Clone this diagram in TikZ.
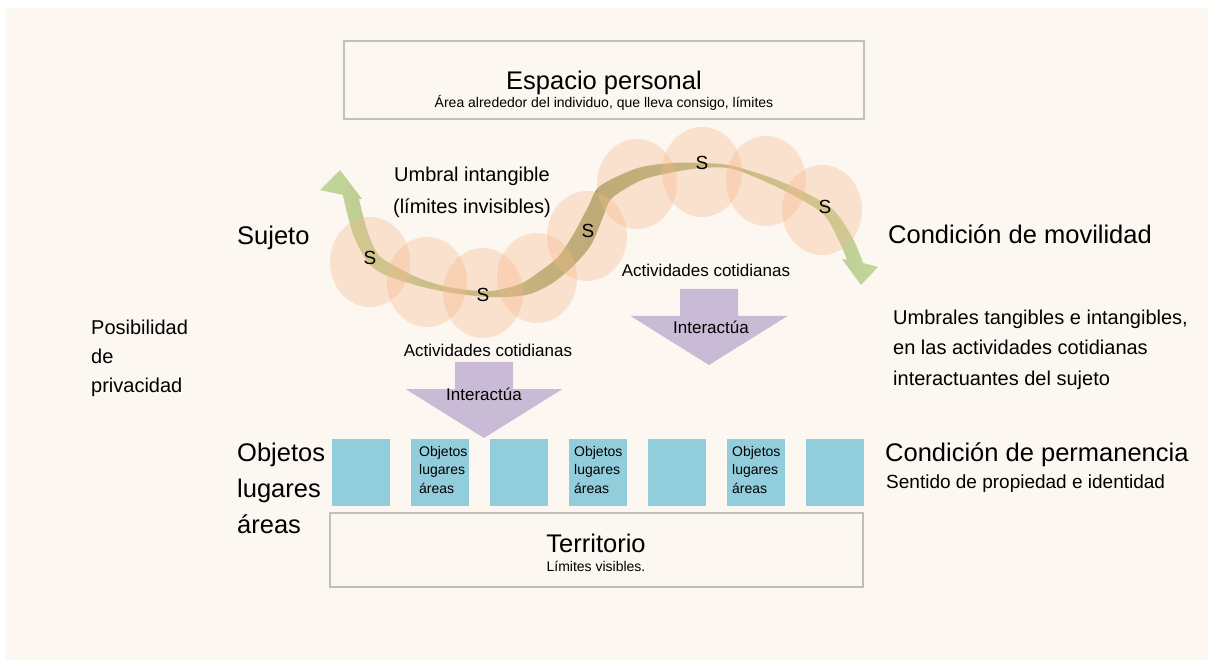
\documentclass[tikz,border=0pt]{standalone}
\usepackage{fontspec}
\setmainfont{Liberation Sans}
\usepackage{xcolor}
\definecolor{bgCream}{HTML}{FCF7F1}
\definecolor{boxBorder}{HTML}{BFBFBF}
\definecolor{sqBlue}{HTML}{92CDDC}
\definecolor{arrowLilac}{HTML}{C9BBD6}
\definecolor{bubblePeach}{HTML}{F8B88B}
\definecolor{ribGreen}{HTML}{C3D69B}
\definecolor{ribOlive}{HTML}{9FA46C}
\usetikzlibrary{positioning}
\newcommand{\fbig}{\fontsize{25.5}{36}\selectfont}
\newcommand{\fmid}{\fontsize{20}{30.5}\selectfont}
\newcommand{\fpos}{\fontsize{20}{29}\selectfont}
\newcommand{\fumb}{\fontsize{20}{32}\selectfont}
\newcommand{\fsml}{\fontsize{17}{20}\selectfont}
\newcommand{\fess}{\fontsize{19}{20}\selectfont}
\newcommand{\fmini}{\fontsize{14}{18.5}\selectfont}
\tikzset{
    framebox/.style={
        draw=boxBorder,
        line width=1.5pt,
        fill=bgCream,
        rectangle,
        inner sep=0pt
    },
    blocksq/.style={
        fill=sqBlue,
        rectangle,
        minimum width=58pt,
        minimum height=67pt,
        inner sep=0pt
    },
    bubble/.style={
        fill=bubblePeach,
        fill opacity=0.35
    },
    ribbon/.style={
        left color=ribGreen,
        right color=ribGreen,
        middle color=ribOlive
    },
    interarrow/.pic={
        \fill[arrowLilac] (-29,0) -- (29,0) -- (29,27) -- (78.5,27) -- (0,76)
            -- (-78.5,27) -- (-29,27) -- cycle;
    },
    bigtxt/.style={font=\fbig, inner sep=0pt, align=left},
    midtxt/.style={font=\fmid, inner sep=0pt, align=left},
    sml/.style={font=\fsml, inner sep=0pt},
    mini/.style={font=\fmini, inner sep=0pt, align=left}
}
\begin{document}
\begin{tikzpicture}[x=1pt, y=-1pt]
    \useasboundingbox (0,0) rectangle (1208,660);
    \fill[bgCream] (6,8) rectangle (1208,660);

    % Espacio personal
    \node[framebox, minimum width=520pt, minimum height=78pt] (espacio) at (604,80) {};
    \node[bigtxt, anchor=base] (espaciotit) at (604,90) {Espacio personal};
    \node[mini, anchor=base] (espaciosub) at (604,108)
        {Área alrededor del individuo, que lleva consigo, límites};

    % Umbral: the S-shaped ribbon with its two heads
    \path[ribbon] (340,170) -- (320,190) -- (343,195)
        -- plot[smooth] coordinates {(343,196) (353,234) (367,261) (383,274) (419,286)
            (453,293) (490,297) (526,295) (551,284) (572,267) (591,245) (603,217)
            (612,198) (642,180) (674,172) (703,168) (733,169) (779,188) (822,213)
            (839,241) (847,260)}
        -- (842,259) -- (861,285) -- (878,267) -- (863,263)
        -- plot[smooth] coordinates {(863,263) (852,237) (830,207) (782,182) (733,166)
            (703,163) (673,163) (638,168) (600,186) (588,207) (573,235) (558,257)
            (539,272) (520,284) (490,291) (453,288) (421,279) (391,264) (377,253)
            (367,230) (359,199)}
        -- (362,199) -- cycle;
    \foreach \x/\y in {370/262, 427/282, 483/293, 537/278, 587/236,
                       637/184, 702/172, 766/181, 822/210}
        \fill[bubble] (\x,\y) ellipse (40pt and 45pt);
    \foreach \x/\y [count=\i] in {370/258, 483/295, 588/231, 702/163, 825/207}
        \node[font=\fess, inner sep=0pt] (s\i) at (\x,\y) {S};
    \node[font=\fumb, inner sep=0pt, align=center, anchor=base] (umbral) at (472,214)
        {Umbral intangible\\(límites invisibles)};

    % Left labels
    \node[bigtxt, anchor=base west] (sujeto) at (237,245) {Sujeto};
    \node[font=\fpos, inner sep=0pt, align=left, anchor=base west] (privacidad) at (91,392)
        {Posibilidad\\de\\privacidad};
    \node[bigtxt, anchor=base west] (objetos) at (237,533) {Objetos\\lugares\\áreas};

    % Right labels
    \node[bigtxt, anchor=base west] (movilidad) at (888,244) {Condición de movilidad};
    \node[midtxt, anchor=base west] (umbrales) at (893,385)
        {Umbrales tangibles e intangibles,\\en las actividades cotidianas\\interactuantes del sujeto};
    \node[bigtxt, anchor=base west] (permanencia) at (885,461) {Condición de permanencia};
    \node[font=\fontsize{19}{22}\selectfont, inner sep=0pt, anchor=base west] (sentido)
        at (886,488) {Sentido de propiedad e identidad};

    % Actividades cotidianas -> Interactua
    \node[sml, anchor=base] (act1) at (488,356) {Actividades cotidianas};
    \pic at (484,362) {interarrow};
    \node[sml, anchor=base] (int1) at (484,400) {Interactúa};
    \node[sml, anchor=base] (act2) at (706,277) {Actividades cotidianas};
    \pic at (709,289) {interarrow};
    \node[sml, anchor=base] (int2) at (711,334) {Interactúa};

    % Objetos, lugares, areas
    \foreach \i in {0,...,6}
        \node[blocksq] (sq\i) at (361+79*\i,472) {};
    \foreach \x [count=\i] in {419,574,732}
        \node[mini, anchor=base west] (obj\i) at (\x,493) {Objetos\\lugares\\áreas};

    % Territorio
    \node[framebox, minimum width=533pt, minimum height=74pt] (territorio) at (596.5,550) {};
    \node[bigtxt, anchor=base] (territoriotit) at (596,552) {Territorio};
    \node[mini, anchor=base] (territoriosub) at (596,571) {Límites visibles.};
\end{tikzpicture}
\end{document}
